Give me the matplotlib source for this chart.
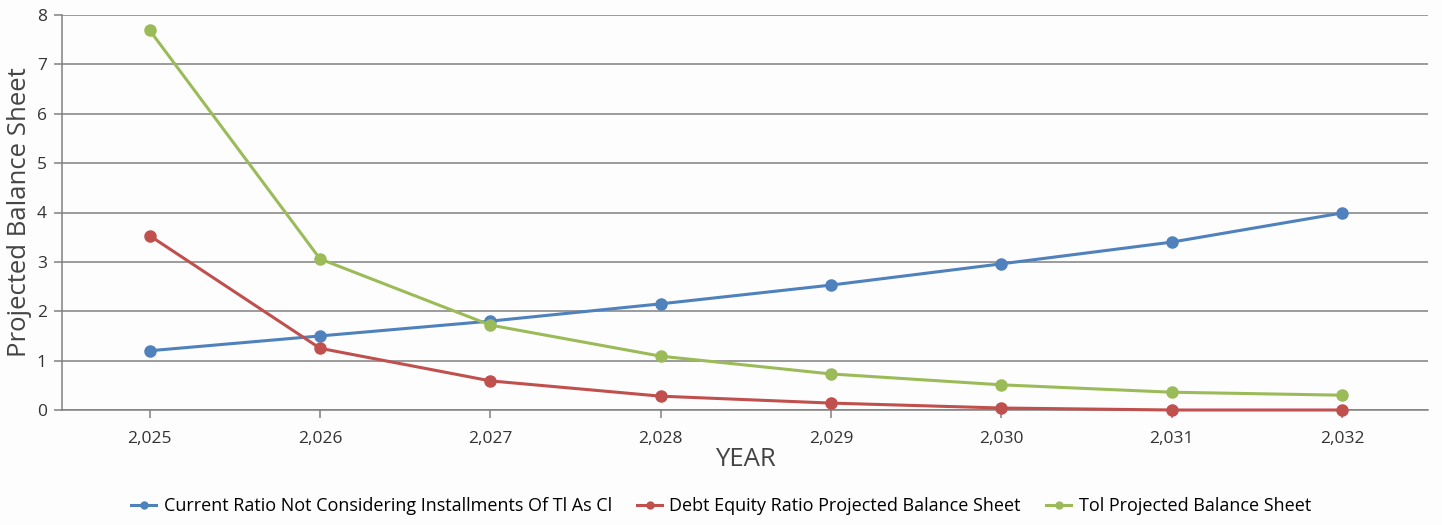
import matplotlib
matplotlib.use("Agg")
import matplotlib.pyplot as plt
from matplotlib.lines import Line2D

years = [2025, 2026, 2027, 2028, 2029, 2030, 2031, 2032]
year_labels = ["2,025", "2,026", "2,027", "2,028", "2,029", "2,030", "2,031", "2,032"]

current_ratio = [1.20, 1.50, 1.80, 2.15, 2.53, 2.96, 3.40, 3.99]
debt_equity = [3.53, 1.25, 0.59, 0.28, 0.14, 0.04, 0.0, 0.0]
tol = [7.69, 3.06, 1.72, 1.09, 0.73, 0.51, 0.36, 0.30]

series_names = [
    "Current Ratio Not Considering Installments Of Tl As Cl",
    "Debt Equity Ratio Projected Balance Sheet",
    "Tol Projected Balance Sheet",
]
colors = ["#4f81bd", "#c0504d", "#9bbb59"]

plt.rcParams["font.family"] = ["Open Sans", "DejaVu Sans"]

fig = plt.figure(figsize=(14.42, 5.25), dpi=100, facecolor="#fdfdfd")
ax = fig.add_axes([62 / 1442, 1 - 410 / 525, (1428 - 62) / 1442, (410 - 15) / 525])
ax.set_facecolor("#fdfdfd")

x = list(range(len(years)))
for vals, col in zip([current_ratio, debt_equity, tol], colors):
    ax.plot(x, vals, color=col, lw=2.2, marker="o", ms=8, zorder=3, clip_on=False)

ax.set_xlim(-0.515, len(years) - 1 + 0.505)
ax.set_ylim(0, 8)
ax.set_yticks(range(0, 9))
ax.set_xticks(x)
ax.set_xticklabels(year_labels)

ax.grid(axis="y", color="#808080", lw=1.1)
ax.set_axisbelow(True)
for s in ["top", "right"]:
    ax.spines[s].set_visible(False)
for s in ["left", "bottom"]:
    ax.spines[s].set_color("#808080")
    ax.spines[s].set_linewidth(1.1)

ax.tick_params(axis="both", colors="#808080", labelcolor="#333333", labelsize=12.5, length=6, width=1.1)
ax.tick_params(axis="x", pad=9)
ax.tick_params(axis="y", pad=5)

ax.set_xlabel("YEAR", fontsize=18.5, color="#444444", labelpad=0)
ax.set_ylabel("Projected Balance Sheet", fontsize=18.5, color="#444444")
ax.yaxis.set_label_coords(-0.022, 0.5)

handles = [Line2D([0], [0], color=c, lw=2.2, marker="o", ms=5) for c in colors]
fig.legend(handles, series_names, loc="center", bbox_to_anchor=(0.5, 1 - 506 / 525),
           ncol=3, frameon=False, handlelength=1.4, handletextpad=0.4,
           columnspacing=1.4, prop={"family": ["Open Sans", "DejaVu Sans"], "size": 13})

fig.savefig("out.png", dpi=100, facecolor=fig.get_facecolor())
